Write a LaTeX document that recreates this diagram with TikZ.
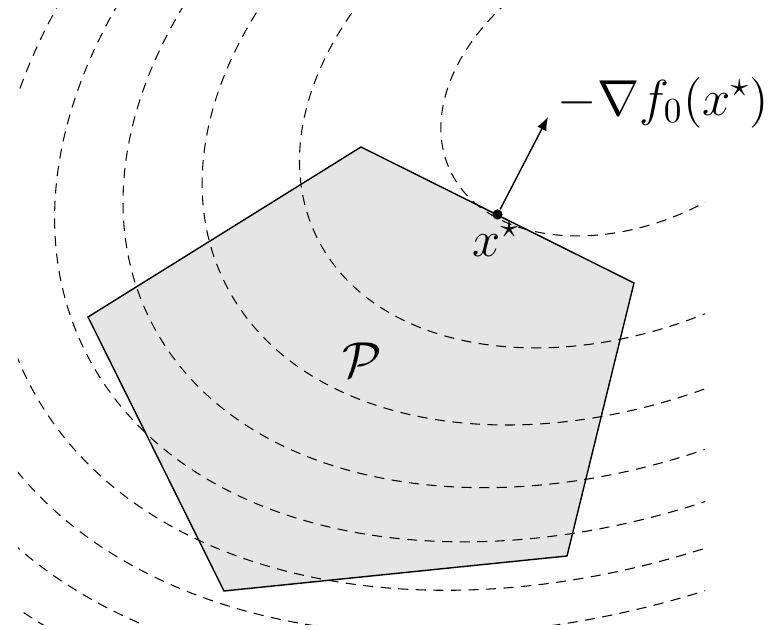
\documentclass[tikz,border=0pt]{standalone}
\usepackage{xcolor}
\usepackage{tikz}
\usetikzlibrary{arrows.meta}

\tikzset{
        levelset/.style={line width=0.3pt, dash pattern=on 2.9pt off 2.1pt},
        polyset/.style={draw=black, fill=gray!20, line width=0.4pt},
        optpoint/.style={circle, fill=black, inner sep=0pt, minimum size=2.9pt},
        biglabel/.style={font=\fontsize{14.8}{18}\selectfont, inner sep=1pt},
}

\begin{document}
\begin{tikzpicture}
        \useasboundingbox (0,0) rectangle (7.73,6.30);
        \coordinate (c) at (6.34,5.47);
        \draw[polyset] (0.88,3.13) -- (3.61,4.83) -- (6.34,3.47) -- (5.67,0.74) -- (2.24,0.39) -- cycle;
        
        \begin{scope}
        \clip (0.18,0.05) rectangle (7.05,6.21);
        \foreach \k in {1,...,9}{
                \pgfmathsetmacro{\s}{sqrt(\k-0.5)}
                \draw[levelset] (c) ellipse [x radius=2.88*\s, y radius=1.96*\s, rotate=25.7];
        }
        \end{scope}
        
        \node[optpoint] (xstar) at (4.975,4.155) {};
        \coordinate (tip) at (5.48,5.13);
        \draw[-{Latex[length=3.8pt,width=2.9pt]}, line width=0.4pt] (xstar) -- (tip);
        
        \node[biglabel] (grad) at (6.635,5.275) {$-\nabla f_0(x^\star)$};
        \node[biglabel] (xlab) at (4.96,3.91) {$x^\star$};
        \node[biglabel] (P) at (3.62,2.70) {$\mathcal{P}$};
        \end{tikzpicture}
\end{document}
